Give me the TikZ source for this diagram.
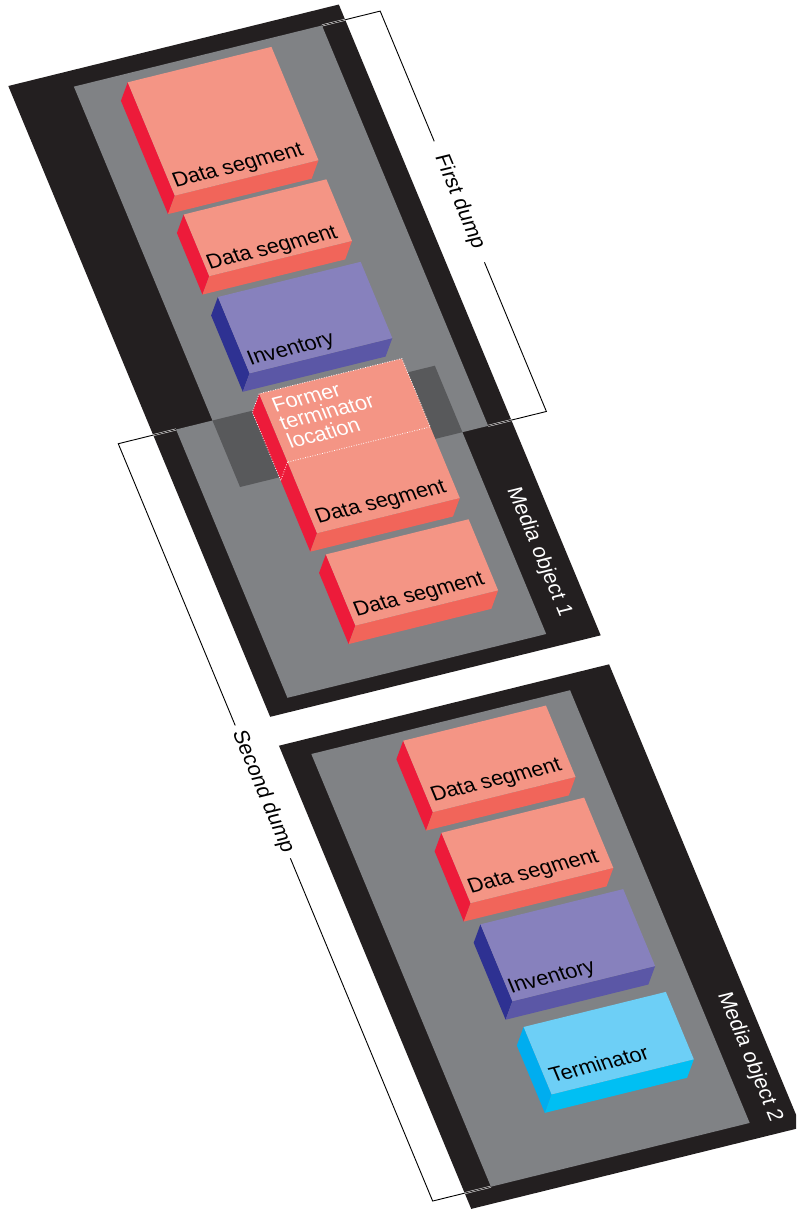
\documentclass[tikz,border=0pt]{standalone}
\usepackage{fontspec}
\setmainfont{Liberation Sans}
\definecolor{mblack}{RGB}{35,31,32}
\definecolor{mgray}{RGB}{128,130,133}
\definecolor{mdark}{RGB}{88,89,91}
\definecolor{segtop}{RGB}{244,149,133}
\definecolor{segbot}{RGB}{241,101,90}
\definecolor{segside}{RGB}{237,27,58}
\definecolor{invtop}{RGB}{135,129,189}
\definecolor{invbot}{RGB}{91,87,166}
\definecolor{invside}{RGB}{46,49,146}
\definecolor{termtop}{RGB}{109,207,246}
\definecolor{termbot}{RGB}{0,191,243}
\definecolor{termside}{RGB}{0,173,239}
\def\ex{-13.5}
\def\ey{16.5}
\newcommand\prism[5]{%
  \fill[#1side] (#2,#3) -- (#2+\ex,#3+\ey) -- (#2+\ex,#5+\ey) -- (#2,#5) -- cycle;
  \fill[#1bot] (#2,#5) -- (#2+\ex,#5+\ey) -- (#4+\ex,#5+\ey) -- (#4,#5) -- cycle;
  \fill[#1top] (#2,#3) rectangle (#4,#5);
}
\tikzset{
  lbl/.style={font=\fontsize{21.3}{20}\selectfont, inner sep=0pt, anchor=base west},
  medialbl/.style={font=\fontsize{21.3}{20}\selectfont, text=white, inner sep=0pt, rotate=-90, anchor=center},
  dumplbl/.style={font=\fontsize{21.3}{20}\selectfont, inner ysep=0pt, rotate=-90, anchor=center},
  brk/.style={draw=black, line width=0.9pt},
  dbl/.style={draw=white, line width=0.45pt, double=mblack, double distance=0.9pt},
  dots/.style={draw=white, line width=0.8pt, dash pattern=on 0.8pt off 1.7pt}
}
\begin{document}
\begin{tikzpicture}[x=1pt,y=1pt]
\useasboundingbox (0,0) rectangle (796,-1209);
\clip (0,0) rectangle (796,-1209);
\begin{scope}[cm={0.971,0.2394,-0.3834,0.9236,(8.3pt,-86pt)}, x=1pt, y=-1pt, transform shape]
  % Media object 1
  \fill[mblack] (0,0) rectangle (340.4,683);
  \fill[mgray] (61,16.5) rectangle (316.5,450);
  \fill[mgray] (23.5,378) rectangle (290,668.5);
  \fill[mdark] (61,378) rectangle (290,450);
  % Media object 2
  \fill[mblack] (-3,713.5) rectangle (337,1215);
  \fill[mgray] (24,729.5) rectangle (290.5,1198);
  % blocks of media object 1
  \prism{seg}{113}{25.3}{261}{148}
  \prism{seg}{114}{168.7}{261}{235.4}
  \prism{inv}{114}{258}{261}{340.6}
  \prism{seg}{115}{363}{262}{514}
  \prism{seg}{115}{537}{262}{614}
  % blocks of media object 2
  \prism{seg}{115}{738.7}{262}{816}
  \prism{seg}{115}{838.4}{262}{914.5}
  \prism{inv}{116}{937.7}{263}{1021}
  \prism{term}{116.5}{1049}{263}{1122}
  % former terminator outline
  \draw[dots] (115,437) -- (115+\ex,437+\ey) -- (115+\ex,363+\ey) -- (115,363) -- (262,363) -- (262,437) -- cycle;
  % labels
  \node[lbl] (l1) at (117,140) {Data segment};
  \node[lbl] (l2) at (117,229) {Data segment};
  \node[lbl] (l3) at (118,333) {Inventory};
  \node[lbl, text=white] (ft1) at (123,385) {Former};
  \node[lbl, text=white] (ft2) at (123,404.5) {terminator};
  \node[lbl, text=white] (ft3) at (123,424.5) {location};
  \node[lbl] (l4) at (120,505) {Data segment};
  \node[lbl] (l5) at (120,605) {Data segment};
  \node[lbl] (l6) at (120,806) {Data segment};
  \node[lbl] (l7) at (119,905) {Data segment};
  \node[lbl] (l8) at (118,1013) {Inventory};
  \node[lbl] (l9) at (122,1111) {Terminator};
  \node[medialbl] (mo1) at (315,586) {Media object 1};
  \node[medialbl] (mo2) at (316,1133) {Media object 2};
  % First dump bracket
  \coordinate (b1a) at (316.5,16.5);
  \coordinate (b1b) at (376.5,16.5);
  \coordinate (b1c) at (376.5,450);
  \coordinate (b1d) at (316.5,450);
  \coordinate (m1a) at (340.4,16.5);
  \coordinate (m1b) at (340.4,450);
  \node[dumplbl, inner xsep=15pt] (fd) at (376.5,223) {First dump};
  \draw[brk] (m1a) -- (b1b) -- (fd.west);
  \draw[brk] (fd.east) -- (b1c) -- (m1b);
  \draw[dbl] (b1a) -- (m1a);
  \draw[dbl] (b1d) -- (m1b);
  % Second dump bracket
  \coordinate (b2a) at (23.5,378);
  \coordinate (b2b) at (-36,378);
  \coordinate (b2c) at (-36,1198);
  \coordinate (b2d) at (24,1198);
  \coordinate (m2a) at (0,378);
  \coordinate (m2b) at (-3,1198);
  \node[dumplbl, inner xsep=6pt] (sd) at (-36,755) {Second dump};
  \draw[brk] (m2a) -- (b2b) -- (sd.west);
  \draw[brk] (sd.east) -- (b2c) -- (m2b);
  \draw[dbl] (b2a) -- (m2a);
  \draw[dbl] (b2d) -- (m2b);
\end{scope}
\end{tikzpicture}
\end{document}
